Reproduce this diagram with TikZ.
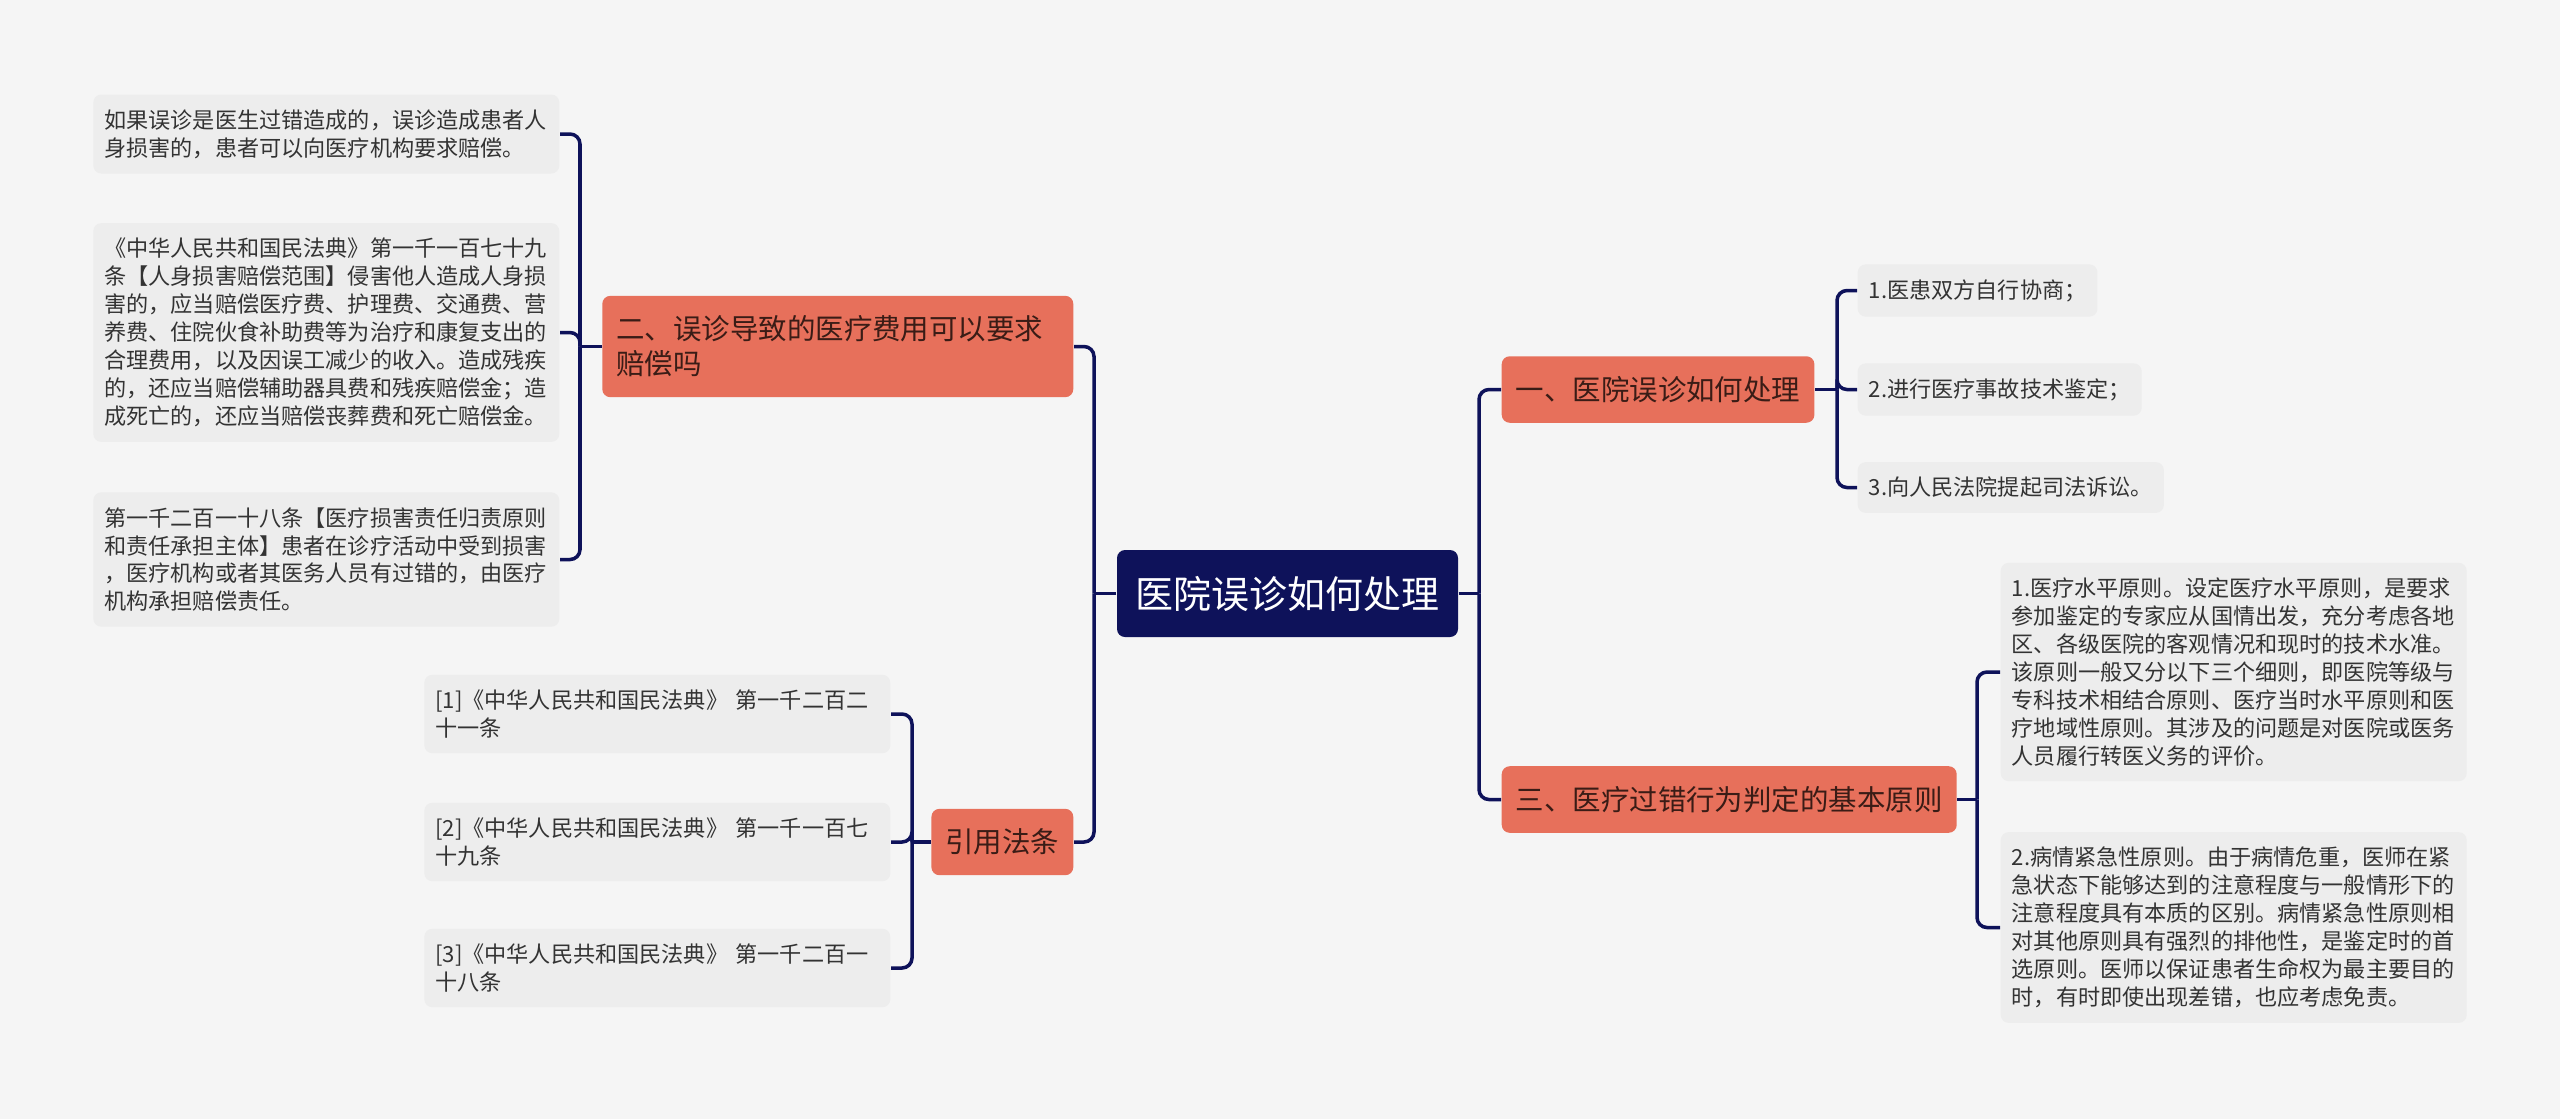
\documentclass[tikz,border=0pt]{standalone}
\usepackage{fontspec}
\usepackage{xcolor}
\usepackage{tikz}
\usetikzlibrary{positioning}
\newfontfamily\cjk{Noto Sans CJK SC}

\definecolor{pagebg}{HTML}{F5F5F5}
\definecolor{rootblue}{HTML}{0E125A}
\definecolor{branchred}{HTML}{E7705B}
\definecolor{branchtext}{HTML}{3A1C16}
\definecolor{leafgray}{HTML}{EDEDED}
\definecolor{leaftext}{HTML}{333333}

\begin{document}
\begin{tikzpicture}[
    link/.style={draw=rootblue, line width=1pt, rounded corners=0.1cm},
    root/.style={
        fill=rootblue,
        text=white,
        rounded corners=0.08cm,
        font=\cjk\fontsize{10.8}{13}\selectfont,
        minimum width=3.41cm,
        minimum height=0.87cm,
        inner sep=0pt
    },
    branch/.style={
        fill=branchred,
        text=branchtext,
        rounded corners=0.08cm,
        font=\cjk\fontsize{8.1}{9.95}\selectfont,
        align=left,
        minimum height=0.65cm,
        inner xsep=0.14cm,
        inner ysep=0.2cm
    },
    leaf/.style={
        fill=leafgray,
        text=leaftext,
        rounded corners=0.08cm,
        font=\cjk\fontsize{6.3}{7.95}\selectfont,
        align=left,
        inner xsep=0.11cm,
        inner ysep=0.15cm
    },
    leafwide/.style={leaf, text width=4.44cm}
]

% Stable crop.
\path[use as bounding box] (0,0) rectangle (25.6,-11.19);
\fill[pagebg] (0,0) rectangle (25.6,-11.19);

% --------------------------------------------------
% Root and main branches
% --------------------------------------------------
\node[root] (root) at (12.875,-5.935) {医院误诊如何处理};

\node[branch, anchor=west] (b1) at (15.01,-3.895) {一、医院误诊如何处理};
\node[branch, anchor=west] (b3) at (15.01,-7.995) {三、医疗过错行为判定的基本原则};
\node[branch, anchor=east, text width=4.43cm] (b2) at (10.74,-3.465)
    {二、误诊导致的医疗费用可以要求\\赔偿吗};
\node[branch, anchor=east] (b4) at (10.74,-8.42) {引用法条};

% --------------------------------------------------
% Leaves
% --------------------------------------------------
\node[leafwide, anchor=east] (l1) at (5.60,-1.34)
    {如果误诊是医生过错造成的，误诊造成患者人\\身损害的，患者可以向医疗机构要求赔偿。};
\node[leafwide, anchor=east] (l2) at (5.60,-3.325)
    {《中华人民共和国民法典》第一千一百七十九\\条【人身损害赔偿范围】侵害他人造成人身损\\害的，应当赔偿医疗费、护理费、交通费、营\\养费、住院伙食补助费等为治疗和康复支出的\\合理费用，以及因误工减少的收入。造成残疾\\的，还应当赔偿辅助器具费和残疾赔偿金；造\\成死亡的，还应当赔偿丧葬费和死亡赔偿金。};
\node[leafwide, anchor=east] (l3) at (5.60,-5.595)
    {第一千二百一十八条【医疗损害责任归责原则\\和责任承担主体】患者在诊疗活动中受到损害\\，医疗机构或者其医务人员有过错的，由医疗\\机构承担赔偿责任。};

\node[leafwide, anchor=east] (r1) at (8.91,-7.14)
    {[1]《中华人民共和国民法典》 第一千二百二\\十一条};
\node[leafwide, anchor=east] (r2) at (8.91,-8.42)
    {[2]《中华人民共和国民法典》 第一千一百七\\十九条};
\node[leafwide, anchor=east] (r3) at (8.91,-9.68)
    {[3]《中华人民共和国民法典》 第一千二百一\\十八条};

\node[leaf, anchor=west] (c1) at (18.57,-2.905) {1.医患双方自行协商；};
\node[leaf, anchor=west] (c2) at (18.57,-3.895) {2.进行医疗事故技术鉴定；};
\node[leaf, anchor=west] (c3) at (18.57,-4.875) {3.向人民法院提起司法诉讼。};

\node[leafwide, anchor=west] (d1) at (20.00,-6.72)
    {1.医疗水平原则。设定医疗水平原则，是要求\\参加鉴定的专家应从国情出发，充分考虑各地\\区、各级医院的客观情况和现时的技术水准。\\该原则一般又分以下三个细则，即医院等级与\\专科技术相结合原则、医疗当时水平原则和医\\疗地域性原则。其涉及的问题是对医院或医务\\人员履行转医义务的评价。};
\node[leafwide, anchor=west] (d2) at (20.00,-9.275)
    {2.病情紧急性原则。由于病情危重，医师在紧\\急状态下能够达到的注意程度与一般情形下的\\注意程度具有本质的区别。病情紧急性原则相\\对其他原则具有强烈的排他性，是鉴定时的首\\选原则。医师以保证患者生命权为最主要目的\\时，有时即使出现差错，也应考虑免责。};

% Bus lines for the brackets.
\coordinate (busr) at (14.79,0);
\coordinate (busl) at (10.94,0);
\coordinate (busb2) at (5.80,0);
\coordinate (busb4) at (9.12,0);
\coordinate (busb1) at (18.37,0);
\coordinate (busb3) at (19.77,0);

% --------------------------------------------------
% Connectors
% --------------------------------------------------
\draw[link] (root.east) -- (root.east -| busr);
\foreach \b in {b1,b3}
    \draw[link] (root.east -| busr) |- (\b.west);

\draw[link] (root.west) -- (root.west -| busl);
\foreach \b in {b2,b4}
    \draw[link] (root.west -| busl) |- (\b.east);

\draw[link] (b2.west) -- (b2.west -| busb2);
\foreach \l in {l1,l2,l3}
    \draw[link] (b2.west -| busb2) |- (\l.east);

\draw[link] (b4.west) -- (b4.west -| busb4);
\foreach \l in {r1,r2,r3}
    \draw[link] (b4.west -| busb4) |- (\l.east);

\draw[link] (b1.east) -- (b1.east -| busb1);
\foreach \l in {c1,c2,c3}
    \draw[link] (b1.east -| busb1) |- (\l.west);

\draw[link] (b3.east) -- (b3.east -| busb3);
\foreach \l in {d1,d2}
    \draw[link] (b3.east -| busb3) |- (\l.west);

\end{tikzpicture}
\end{document}
